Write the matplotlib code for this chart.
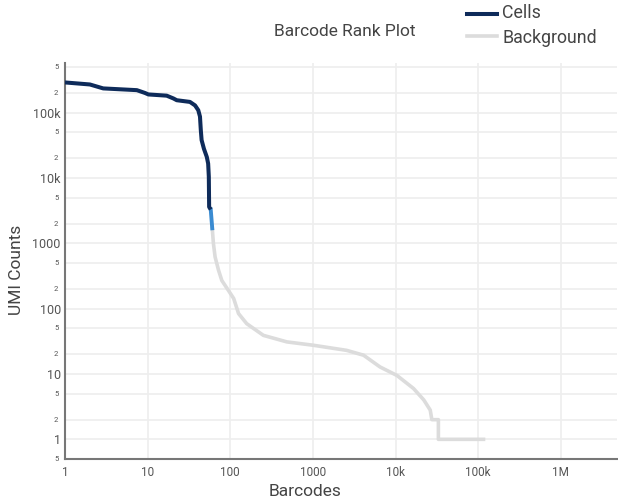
import math
import matplotlib
matplotlib.use("Agg")
import matplotlib.pyplot as plt
from matplotlib.lines import Line2D
from matplotlib.ticker import FixedLocator, NullFormatter, NullLocator

plt.rcParams['font.family'] = ['Roboto', 'DejaVu Sans']

# Barcode rank vs UMI counts
cells_rank = [1, 2.0, 2.9, 7.4, 9.3, 10.2, 17, 20.5, 22.5, 32.5, 37.5, 41, 43, 44, 45, 48, 52, 54, 55, 55.5, 58]
cells_umi = [290e3, 270e3, 235e3, 221e3, 200e3, 190e3, 182e3, 165e3, 155e3, 146e3, 129e3, 109e3, 87e3,
             54e3, 38e3, 28e3, 21e3, 16.6e3, 10.5e3, 3600, 3300]

mixed_rank = [58, 60.5]
mixed_umi = [3300, 1700]

bg_rank = [60.5, 62.5, 65.5, 72, 79, 95, 110, 126, 158, 182, 252, 484, 1020, 2560, 4100, 6500,
           10.4e3, 16.5e3, 22e3, 26.3e3, 27.5e3, 33e3, 33e3, 116e3]
bg_umi = [1700, 1000, 620, 390, 270, 190, 143, 84, 59, 52, 39, 31, 27.5, 23, 19.4, 12.8,
          9.5, 6, 4, 2.8, 2, 2, 1, 1]

x_ticks = [1, 10, 100, 1000, 1e4, 1e5, 1e6]
x_labels = ["1", "10", "100", "1000", "10k", "100k", "1M"]
y_major = [1, 10, 100, 1000, 1e4, 1e5]
y_major_labels = ["1", "10", "100", "1000", "10k", "100k"]

W, H = 618, 500
fig = plt.figure(figsize=(W / 100, H / 100), dpi=100)
left, right, top, bottom = 65, 617, 63, 459
ax = fig.add_axes([left / W, 1 - bottom / H, (right - left) / W, (bottom - top) / H])

ax.set_xscale("log")
ax.set_yscale("log")
ax.set_xlim(1, 10 ** 6.68)
ax.set_ylim(0.5, 10 ** 5.76)

text_col = "#555555"
title_col = "#444444"
grid_col = "#eeeeee"

ax.xaxis.set_major_locator(FixedLocator(x_ticks))
ax.xaxis.set_minor_locator(NullLocator())
ax.set_xticklabels(x_labels)
y_minor = []
for d in [0.1, 1, 10, 100, 1000, 1e4, 1e5]:
    for m in (2, 5):
        v = d * m
        if 0.5 <= v <= 10 ** 5.76:
            y_minor.append(v)
ax.yaxis.set_major_locator(FixedLocator(y_major))
ax.set_yticklabels(y_major_labels)
ax.yaxis.set_minor_locator(FixedLocator(y_minor))
ax.yaxis.set_minor_formatter(NullFormatter())

ax.grid(True, which="major", axis="both", color=grid_col, lw=1.2, zorder=0)
ax.grid(True, which="minor", axis="y", color=grid_col, lw=1.2, zorder=0)
ax.tick_params(axis="both", which="both", length=0, colors=text_col)
ax.tick_params(axis="y", which="major", labelsize=9, pad=3)
ax.tick_params(axis="x", which="major", labelsize=8.5, pad=5)

# small mantissa labels on the minor y ticks
for v in y_minor:
    lab = str(int(round(v / 10 ** math.floor(math.log10(v)))))
    ax.text(-0.012, v, lab, transform=ax.get_yaxis_transform(), ha="right", va="center",
            fontsize=5.5, color=text_col)

for s in ("top", "right"):
    ax.spines[s].set_visible(False)
for s in ("left", "bottom"):
    ax.spines[s].set_color("#777777")
    ax.spines[s].set_linewidth(1.5)

navy = "#0e2b5a"
blue = "#3a8bd1"
gray = "#dcdcdc"

ax.plot(bg_rank, bg_umi, color=gray, lw=2.6, solid_joinstyle="round", zorder=2)
ax.plot(mixed_rank, mixed_umi, color=blue, lw=2.8, zorder=3)
ax.plot(cells_rank, cells_umi, color=navy, lw=2.9, solid_capstyle="butt", zorder=4)

fig.text(305 / W, 1 - 492 / H, "Barcodes", ha="center", va="center", fontsize=12.5, color=title_col)
fig.text(17 / W, 1 - 270 / H, "UMI Counts", ha="center", va="center", rotation=90,
         fontsize=12.5, color=title_col)
fig.text(345 / W, 1 - 31 / H, "Barcode Rank Plot", ha="center", va="center", fontsize=12.5,
         color=title_col)

# legend
fig.add_artist(Line2D([467 / W, 497 / W], [1 - 14 / H, 1 - 14 / H], color=navy, lw=2.9))
fig.add_artist(Line2D([467 / W, 497 / W], [1 - 36 / H, 1 - 36 / H], color=gray, lw=2.6))
fig.text(502 / W, 1 - 13 / H, "Cells", ha="left", va="center", fontsize=12.8, color=title_col)
fig.text(502 / W, 1 - 38 / H, "Background", ha="left", va="center", fontsize=12.8, color=title_col)

fig.savefig("out.png", dpi=100)
